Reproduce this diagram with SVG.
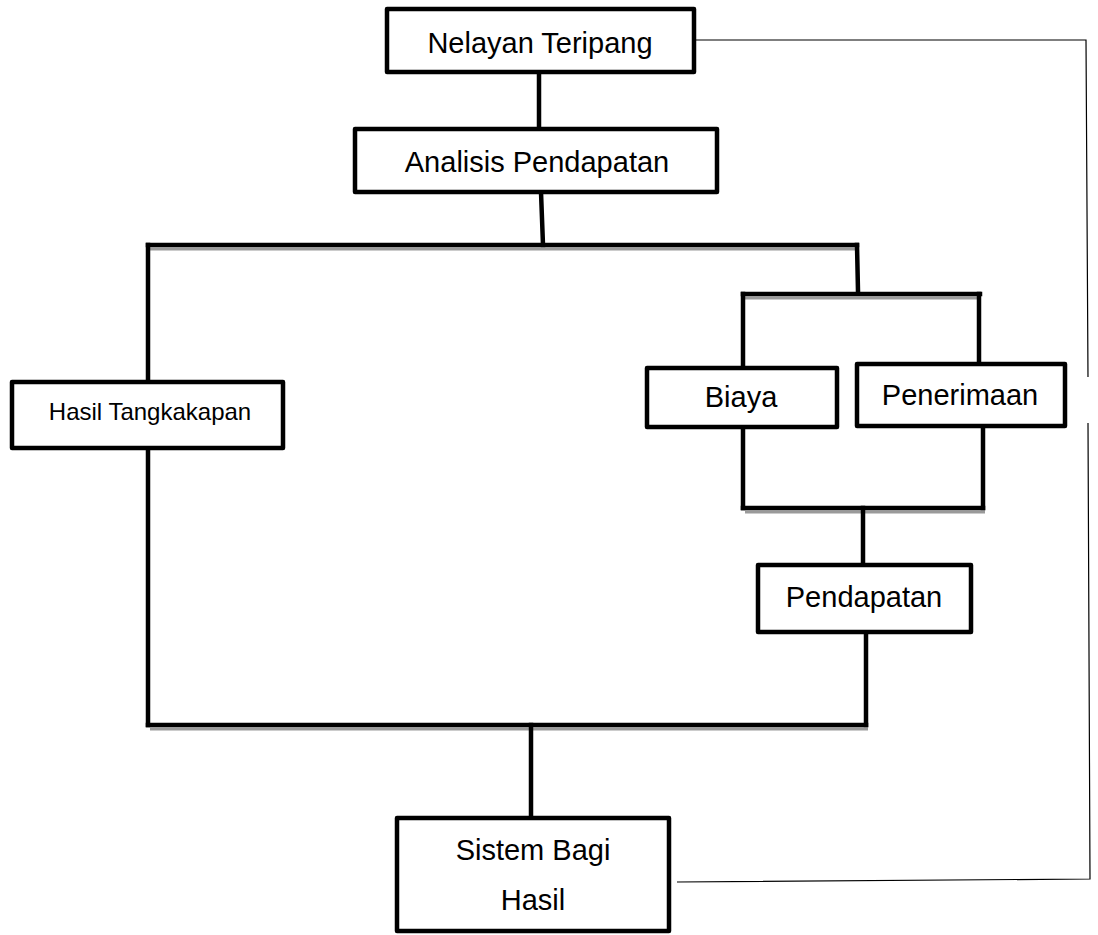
<svg xmlns="http://www.w3.org/2000/svg" width="1098" height="935" viewBox="0 0 1098 935">
<style>
.box{fill:#fff;stroke:#000;stroke-width:4.5;stroke-linejoin:round}
.ln{fill:none;stroke:#000;stroke-width:4.5;stroke-linecap:square}
.sh{fill:none;stroke:#9a9a9a;stroke-width:3}
.thin{fill:none;stroke:#000;stroke-width:1.2}
.t{font-family:"Liberation Sans",Arial,sans-serif;font-size:29px;fill:#000;text-anchor:middle}
.ts{font-size:24px}
</style>
<rect width="1098" height="935" fill="#fff"/>
<g id="connectors">
  <line class="ln" x1="539" y1="72" x2="539" y2="128"/>
  <line class="ln" x1="541" y1="192" x2="543" y2="245"/>
  <line class="sh" x1="150" y1="249" x2="857" y2="249"/>
  <line class="ln" x1="148" y1="245" x2="857" y2="245"/>
  <line class="ln" x1="148" y1="245" x2="148" y2="381"/>
  <line class="ln" x1="148" y1="449" x2="148" y2="725"/>
  <line class="ln" x1="857" y1="245" x2="858" y2="291"/>
  <line class="sh" x1="745" y1="298" x2="980" y2="298"/>
  <line class="ln" x1="743" y1="294" x2="980" y2="294"/>
  <line class="ln" x1="743" y1="294" x2="743" y2="367"/>
  <line class="ln" x1="979" y1="294" x2="979" y2="364"/>
  <line class="ln" x1="743" y1="428" x2="743" y2="508"/>
  <line class="ln" x1="983" y1="426" x2="983" y2="508"/>
  <line class="sh" x1="745" y1="512" x2="985" y2="512"/>
  <line class="ln" x1="743" y1="508" x2="983" y2="508"/>
  <line class="ln" x1="863" y1="508" x2="863" y2="565"/>
  <line class="ln" x1="866" y1="632" x2="866" y2="725"/>
  <line class="sh" x1="150" y1="729" x2="868" y2="729"/>
  <line class="ln" x1="148" y1="725" x2="866" y2="725"/>
  <line class="ln" x1="531" y1="725" x2="531" y2="818"/>
  <polyline class="thin" points="695,40 1086,40 1088,377"/>
  <polyline class="thin" points="1088,423 1090,879 677,882"/>
</g>
<g id="nelayan">
  <rect class="box" x="387" y="9" width="307" height="63"/>
  <text class="t" x="540" y="53">Nelayan Teripang</text>
</g>
<g id="analisis">
  <rect class="box" x="355" y="129" width="362" height="63"/>
  <text class="t" x="537" y="172">Analisis Pendapatan</text>
</g>
<g id="hasil-tangkapan">
  <rect class="box" x="12" y="382" width="271" height="66"/>
  <text class="t ts" x="150" y="420">Hasil Tangkakapan</text>
</g>
<g id="biaya">
  <rect class="box" x="647" y="368" width="190" height="59"/>
  <text class="t" x="741" y="407">Biaya</text>
</g>
<g id="penerimaan">
  <rect class="box" x="857" y="364" width="208" height="62"/>
  <text class="t" x="960" y="405">Penerimaan</text>
</g>
<g id="pendapatan">
  <rect class="box" x="758" y="565" width="213" height="67"/>
  <text class="t" x="864" y="607">Pendapatan</text>
</g>
<g id="sistem-bagi-hasil">
  <rect class="box" x="397" y="818" width="272" height="113"/>
  <text class="t" x="533" y="860">Sistem Bagi</text>
  <text class="t" x="533" y="910">Hasil</text>
</g>
</svg>
